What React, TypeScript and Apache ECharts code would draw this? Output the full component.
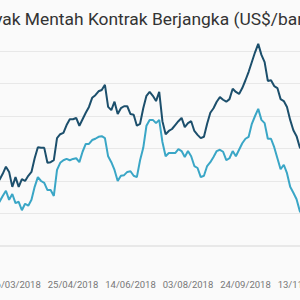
import React, { useEffect, useRef } from "react";
import * as echarts from "echarts";

const titleText = "Harga Minyak Mentah Kontrak Berjangka (US$/barel)";

// every second trading day starting 16/02/2018
const startDate = [2018, 1, 16];
const pointCount = 99;
const labelFirst = 6;
const labelEvery = 18;

const darkValues = [
  64.8, 65.2, 66.1, 67.2, 66.4, 64.1, 65.6, 64.1, 65.3, 65.0,
  65.8, 66.4, 68.5, 70.2, 70.1, 70.1, 67.8, 67.9, 68.2, 71.6,
  72.2, 72.4, 73.6, 74.5, 74.5, 74.7, 73.5, 74.5, 75.5, 76.4,
  77.8, 78.2, 78.8, 79.0, 79.8, 76.4, 75.9, 77.2, 75.3, 76.2,
  76.5, 76.5, 75.3, 75.2, 73.5, 73.8, 76.2, 78.1, 78.7, 78.1,
  77.3, 78.7, 74.2, 72.2, 72.7, 73.0, 73.6, 74.2, 74.7, 73.3,
  73.9, 74.2, 72.7, 72.1, 71.6, 71.8, 73.8, 75.5, 76.2, 77.2,
  77.9, 77.5, 77.2, 77.6, 79.2, 78.7, 78.4, 79.3, 80.5, 81.8,
  83.3, 84.8, 86.1, 84.4, 83.3, 80.4, 80.5, 79.6, 79.3, 77.6,
  77.3, 76.4, 74.4, 72.8, 71.9, 70.2, 69.5, 68.8, 68.5,
];

const lightValues = [
  61.5, 61.8, 62.7, 63.5, 62.1, 63.0, 61.6, 61.8, 60.5, 61.5,
  61.2, 62.1, 64.1, 65.6, 65.0, 64.7, 63.6, 63.6, 62.7, 66.7,
  67.8, 68.2, 68.4, 68.2, 68.4, 68.5, 67.9, 69.5, 70.7, 70.7,
  71.3, 71.5, 71.8, 71.9, 71.6, 68.8, 67.9, 66.7, 65.0, 65.8,
  65.9, 66.4, 66.5, 65.8, 65.6, 68.2, 70.1, 73.5, 74.4, 74.4,
  73.9, 74.4, 71.0, 68.8, 69.3, 69.3, 69.3, 69.9, 69.6, 68.7,
  69.6, 68.8, 67.3, 67.0, 65.6, 65.8, 67.3, 67.9, 68.7, 69.6,
  69.8, 69.5, 68.2, 68.5, 69.6, 68.8, 69.8, 70.8, 71.5, 71.8,
  73.8, 75.0, 76.1, 74.4, 73.9, 71.5, 71.5, 70.2, 68.5, 66.8,
  67.5, 66.2, 64.1, 63.2, 62.2, 60.4, 59.6, 59.0, 58.7,
];

function pad(n: number) {
  return n < 10 ? "0" + n : "" + n;
}

function buildCategories(): string[] {
  const out: string[] = [];
  let t = Date.UTC(startDate[0], startDate[1], startDate[2]);
  const day = 86400000;
  const nextWeekday = (v: number) => {
    let x = v + day;
    while (new Date(x).getUTCDay() === 0 || new Date(x).getUTCDay() === 6) x += day;
    return x;
  };
  for (let i = 0; i < pointCount; i++) {
    const d = new Date(t);
    out.push(pad(d.getUTCDate()) + "/" + pad(d.getUTCMonth() + 1) + "/" + d.getUTCFullYear());
    t = nextWeekday(nextWeekday(t));
  }
  return out;
}

const categories = buildCategories();

export default function App() {
  const ref = useRef<HTMLDivElement>(null);
  useEffect(() => {
    if (!ref.current) return;
    const chart = echarts.init(ref.current, null, { renderer: "svg" });
    chart.setOption({
      animation: false,
      backgroundColor: "#fafafa",
      title: {
        text: titleText,
        left: 9,
        top: 5,
        textStyle: {
          fontFamily: "Roboto",
          fontSize: 17.4,
          fontWeight: "normal",
          color: "#333333",
        },
      },
      grid: { left: 96.34, right: 40.66, top: 18.5, bottom: 54 },
      xAxis: {
        type: "category",
        data: categories,
        boundaryGap: false,
        axisLine: { show: true, lineStyle: { color: "#e8e8e8", width: 2 } },
        axisTick: { show: false },
        axisLabel: {
          interval: (index: number) => index >= labelFirst && (index - labelFirst) % labelEvery === 0,
          margin: 33,
          hideOverlap: false,
          fontFamily: "Roboto",
          fontSize: 9.5,
          color: "#777777",
        },
        splitLine: { show: false },
      },
      yAxis: {
        type: "value",
        min: 55,
        max: 90,
        interval: 5,
        axisLine: { show: false },
        axisTick: { show: false },
        axisLabel: { show: false },
        splitLine: { show: true, showMaxLine: false, lineStyle: { color: "#e8e8e8", width: 1 } },
      },
      series: [
        {
          type: "line",
          data: lightValues,
          showSymbol: false,
          lineStyle: { color: "#3aa6c6", width: 2 },
          itemStyle: { color: "#3aa6c6" },
        },
        {
          type: "line",
          data: darkValues,
          showSymbol: false,
          lineStyle: { color: "#1c4f6c", width: 2 },
          itemStyle: { color: "#1c4f6c" },
        },
      ],
    });
    return () => chart.dispose();
  }, []);
  return (
    <div style={{ position: "fixed", left: 0, top: 0, width: 300, height: 300, overflow: "hidden", background: "#fafafa" }}>
      <div ref={ref} style={{ position: "absolute", left: -100, top: 0, width: 450, height: 300 }} />
    </div>
  );
}
